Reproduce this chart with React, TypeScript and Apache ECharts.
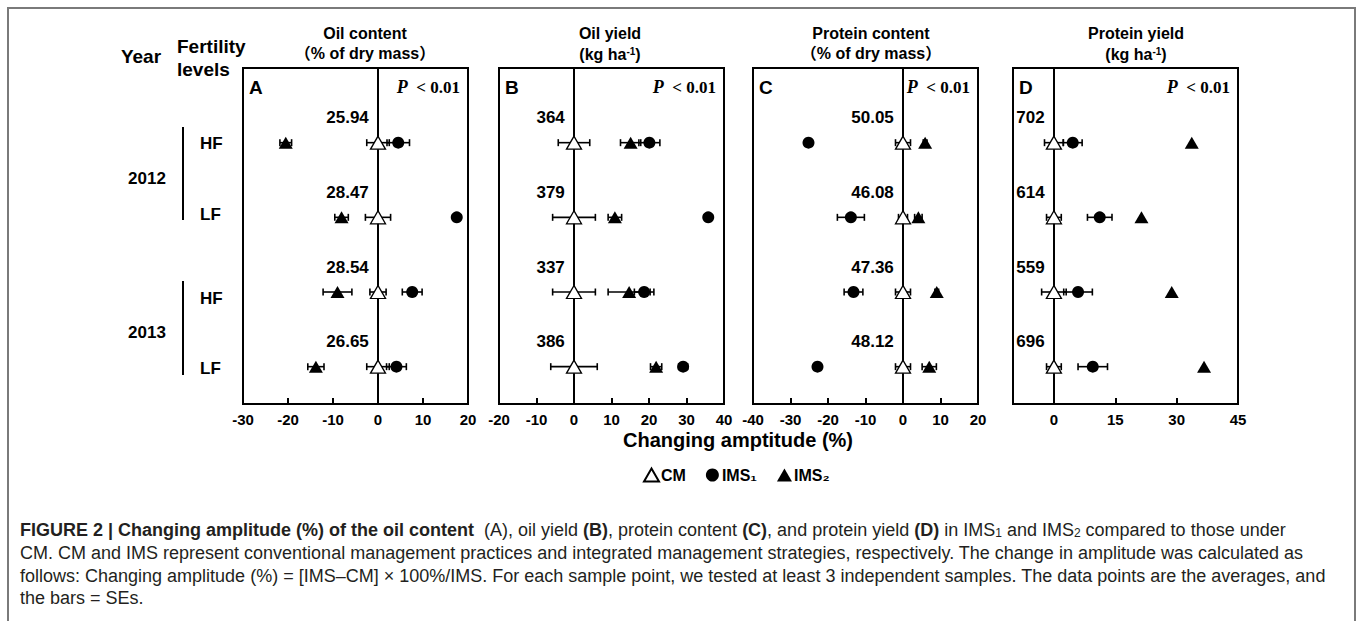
import React, { useEffect, useRef } from 'react';
import * as echarts from 'echarts';

// ---------- data ----------
const rows = ['2012 HF', '2012 LF', '2013 HF', '2013 LF'];

// Panel A: oil content
const oilContentBase = ['25.94', '28.47', '28.54', '26.65'];
const oilContentCMErr = [2.5, 2.8, 1.8, 2.5];
const oilContentIMS1 = [4.5, 17.5, 7.6, 4.1];
const oilContentIMS1Err = [2.5, 0.5, 2.2, 2.2];
const oilContentIMS2 = [-20.5, -8.1, -9.0, -13.8];
const oilContentIMS2Err = [1.3, 1.5, 3.2, 1.8];

// Panel B: oil yield
const oilYieldBase = ['364', '379', '337', '386'];
const oilYieldCMErr = [4.2, 5.7, 5.7, 6.2];
const oilYieldIMS1 = [20.1, 35.8, 18.7, 29.1];
const oilYieldIMS1Err = [2.8, 0.8, 2.6, 1.2];
const oilYieldIMS2 = [15.1, 10.9, 14.7, 21.9];
const oilYieldIMS2Err = [2.7, 1.8, 5.6, 1.5];

// Panel C: protein content
const proteinContentBase = ['50.05', '46.08', '47.36', '48.12'];
const proteinContentCMErr = [2.0, 1.2, 2.0, 2.0];
const proteinContentIMS1 = [-25.2, -13.9, -13.2, -22.8];
const proteinContentIMS1Err = [1.0, 3.6, 2.5, 0.8];
const proteinContentIMS2 = [5.9, 4.1, 9.0, 7.0];
const proteinContentIMS2Err = [0.5, 1.0, 0.5, 1.9];

// Panel D: protein yield
const proteinYieldBase = ['702', '614', '559', '696'];
const proteinYieldCMErr = [2.3, 1.8, 3.0, 1.8];
const proteinYieldIMS1 = [4.6, 11.2, 5.9, 9.5];
const proteinYieldIMS1Err = [2.3, 3.0, 3.5, 3.6];
const proteinYieldIMS2 = [33.7, 21.4, 28.8, 36.7];
const proteinYieldIMS2Err = [0, 0, 0, 0];

const cmMeans = [0, 0, 0, 0];

const panelTitles = ['Oil content', 'Oil yield', 'Protein content', 'Protein yield'];
const panelLetters = ['A', 'B', 'C', 'D'];
const xMins = [-30, -20, -40, -10];
const xMaxs = [20, 40, 20, 45];
const dTicks = [0, 15, 30, 45];

const seriesNames = ['CM', 'IMS₁', 'IMS₂'];

// ---------- layout ----------
const FONT = 'Arial, "Liberation Sans", "Noto Sans CJK SC", sans-serif';
const SERIF = '"Times New Roman", "Liberation Serif", serif';
const gridLefts = [243, 499, 753, 1013];
const gridTop = 68;
const gridW = 225;
const gridH = 336;
const titleCenters = [365, 610, 871, 1136];

const panels = [
  { base: oilContentBase, cmErr: oilContentCMErr, i1: oilContentIMS1, i1e: oilContentIMS1Err, i2: oilContentIMS2, i2e: oilContentIMS2Err },
  { base: oilYieldBase, cmErr: oilYieldCMErr, i1: oilYieldIMS1, i1e: oilYieldIMS1Err, i2: oilYieldIMS2, i2e: oilYieldIMS2Err },
  { base: proteinContentBase, cmErr: proteinContentCMErr, i1: proteinContentIMS1, i1e: proteinContentIMS1Err, i2: proteinContentIMS2, i2e: proteinContentIMS2Err },
  { base: proteinYieldBase, cmErr: proteinYieldCMErr, i1: proteinYieldIMS1, i1e: proteinYieldIMS1Err, i2: proteinYieldIMS2, i2e: proteinYieldIMS2Err },
];

const rowY = (i: number) => rows.length - i - 0.5;

function errSeries(idx: number, means: number[], errs: number[]) {
  return {
    type: 'custom',
    name: 'err',
    xAxisIndex: idx,
    yAxisIndex: idx,
    silent: true,
    z: 1,
    data: means.map((m, i) => [m, rowY(i), errs[i]]),
    encode: { x: 0, y: 1 },
    renderItem: (_p: any, api: any) => {
      const m = api.value(0);
      const y = api.value(1);
      const e = api.value(2);
      if (!e) return null;
      const a = api.coord([m - e, y]);
      const b = api.coord([m + e, y]);
      const h = 3.5;
      const style = { stroke: '#000', lineWidth: 1.6 };
      return {
        type: 'group',
        children: [
          { type: 'line', shape: { x1: a[0], y1: a[1], x2: b[0], y2: b[1] }, style },
          { type: 'line', shape: { x1: a[0], y1: a[1] - h, x2: a[0], y2: a[1] + h }, style },
          { type: 'line', shape: { x1: b[0], y1: b[1] - h, x2: b[0], y2: b[1] + h }, style },
        ],
      };
    },
  };
}

function txt(x: number, y: number, text: string, size: number, align = 'left', extra: any = {}) {
  return {
    type: 'text',
    x,
    y,
    silent: true,
    style: {
      text,
      font: `bold ${size}px ${FONT}`,
      fill: '#000',
      align,
      verticalAlign: 'middle',
      ...extra,
    },
  };
}

export default function App() {
  const ref = useRef<HTMLDivElement>(null);
  useEffect(() => {
    if (!ref.current) return;
    const chart = echarts.init(ref.current, undefined, { renderer: 'svg' });

    const grids = gridLefts.map((l) => ({
      left: l,
      top: gridTop,
      width: gridW,
      height: gridH,
      show: true,
      borderColor: '#000',
      borderWidth: 2,
      backgroundColor: 'transparent',
    }));

    const xAxes = gridLefts.map((_, i) => {
      const ax: any = {
        type: 'value',
        gridIndex: i,
        min: xMins[i],
        max: xMaxs[i],
        axisLine: { show: true, onZero: false, lineStyle: { color: '#000', width: 2 } },
        axisTick: { show: true, inside: true, length: 6, lineStyle: { color: '#000', width: 2 } },
        axisLabel: {
          show: true,
          margin: 8,
          color: '#000',
          fontWeight: 'bold',
          fontSize: 15,
          fontFamily: FONT,
          showMinLabel: true,
          showMaxLabel: true,
          hideOverlap: false,
        },
        splitLine: { show: false },
      };
      if (i === 3) {
        ax.axisTick.customValues = dTicks;
        ax.axisLabel.customValues = dTicks;
      } else {
        ax.interval = 10;
      }
      return ax;
    });

    const yAxes = gridLefts.map((_, i) => ({
      type: 'value',
      gridIndex: i,
      min: 0,
      max: 4.5,
      show: false,
      splitLine: { show: false },
    }));

    const series: any[] = [];
    panels.forEach((p, i) => {
      series.push(errSeries(i, cmMeans, p.cmErr));
      series.push(errSeries(i, p.i1, p.i1e));
      series.push(errSeries(i, p.i2, p.i2e));
      series.push({
        type: 'scatter',
        name: seriesNames[0],
        xAxisIndex: i,
        yAxisIndex: i,
        z: 3,
        symbol: 'triangle',
        symbolSize: [15, 13],
        itemStyle: { color: '#fff', borderColor: '#000', borderWidth: 1.3, opacity: 1 },
        data: cmMeans.map((m, k) => [m, rowY(k)]),
        label: {
          show: true,
          position: 'left',
          distance: 1,
          offset: [0, -25],
          formatter: (q: any) => p.base[q.dataIndex],
          color: '#000',
          fontWeight: 'bold',
          fontSize: 17,
          fontFamily: FONT,
        },
        markLine: {
          silent: true,
          z: 1,
          symbol: ['none', 'none'],
          label: { show: false },
          lineStyle: { color: '#000', width: 2, type: 'solid' },
          data: [{ xAxis: 0 }],
        },
      });
      series.push({
        type: 'scatter',
        name: seriesNames[1],
        xAxisIndex: i,
        yAxisIndex: i,
        z: 3,
        symbol: 'circle',
        symbolSize: 12,
        itemStyle: { color: '#000', opacity: 1 },
        data: p.i1.map((m, k) => [m, rowY(k)]),
      });
      series.push({
        type: 'scatter',
        name: seriesNames[2],
        xAxisIndex: i,
        yAxisIndex: i,
        z: 3,
        symbol: 'triangle',
        symbolSize: [14, 12],
        itemStyle: { color: '#000', opacity: 1 },
        data: p.i2.map((m, k) => [m, rowY(k)]),
      });
    });

    const graphics: any[] = [];
    // frame
    graphics.push({
      type: 'rect',
      silent: true,
      shape: { x: 8, y: 8, width: 1347, height: 640 },
      style: { fill: 'none', stroke: '#7a7a7a', lineWidth: 2 },
    });
    // row header texts
    graphics.push(txt(141, 56, 'Year', 19, 'center'));
    graphics.push(txt(177, 46, 'Fertility', 19));
    graphics.push(txt(177, 69, 'levels', 19));
    graphics.push(txt(147, 178, '2012', 17, 'center'));
    graphics.push(txt(147, 332, '2013', 17, 'center'));
    graphics.push({ type: 'line', silent: true, shape: { x1: 183, y1: 127, x2: 183, y2: 220 }, style: { stroke: '#000', lineWidth: 2 } });
    graphics.push({ type: 'line', silent: true, shape: { x1: 183, y1: 281, x2: 183, y2: 375 }, style: { stroke: '#000', lineWidth: 2 } });
    ['HF', 'LF', 'HF', 'LF'].forEach((t, k) => {
      graphics.push(txt(200, [143, 214, 298, 368][k], t, 17));
    });
    // panel titles
    panelTitles.forEach((t, i) => {
      graphics.push(txt(titleCenters[i], 33, t, 16, 'center'));
      if (i === 0 || i === 2) {
        graphics.push(txt(titleCenters[i], 53, '（% of dry mass）', 16, 'center'));
      } else {
        graphics.push({
          type: 'text',
          x: titleCenters[i],
          y: 54,
          silent: true,
          style: {
            text: '{a|(kg ha}{s|-1}{a|)}',
            align: 'center',
            verticalAlign: 'middle',
            rich: {
              a: { font: `bold 16px ${FONT}`, fill: '#000' },
              s: { font: `bold 10px ${FONT}`, fill: '#000', verticalAlign: 'top' },
            },
          },
        });
      }
      // letters
      graphics.push(txt(gridLefts[i] + 6, 87, panelLetters[i], 19));
      graphics.push({
        type: 'text',
        x: gridLefts[i] + gridW - 8,
        y: 87,
        silent: true,
        style: {
          text: '{i|P}{n|  < 0.01}',
          align: 'right',
          verticalAlign: 'middle',
          rich: {
            i: { font: `italic bold 18px ${SERIF}`, fill: '#000' },
            n: { font: `bold 17px ${SERIF}`, fill: '#000' },
          },
        },
      });
    });
    // axis name
    graphics.push(txt(738, 440, 'Changing amptitude (%)', 20, 'center'));

    // caption
    const cap = (y: number, text: string) => ({
      type: 'text',
      x: 20,
      y,
      silent: true,
      style: {
        text,
        align: 'left',
        verticalAlign: 'middle',
        rich: {
          b: { font: `bold 18px ${FONT}`, fill: '#231f20' },
          n: { font: `18px ${FONT}`, fill: '#231f20' },
          s: { font: `12px ${FONT}`, fill: '#231f20', verticalAlign: 'bottom' },
        },
      },
    });
    graphics.push(cap(530, '{b|FIGURE 2 | Changing amplitude (%) of the oil content }{n| (A), oil yield }{b|(B)}{n|, protein content }{b|(C)}{n|, and protein yield }{b|(D)}{n| in IMS}{s|1}{n| and IMS}{s|2}{n| compared to those under}'));
    graphics.push(cap(553, '{n|CM. CM and IMS represent conventional management practices and integrated management strategies, respectively. The change in amplitude was calculated as}'));
    graphics.push(cap(576, '{n|follows: Changing amplitude (%) = [IMS–CM] × 100%/IMS. For each sample point, we tested at least 3 independent samples. The data points are the averages, and}'));
    graphics.push(cap(598, '{n|the bars = SEs.}'));

    chart.setOption({
      animation: false,
      backgroundColor: '#fff',
      grid: grids,
      xAxis: xAxes,
      yAxis: yAxes,
      legend: {
        left: 638,
        top: 462,
        itemGap: 20,
        itemWidth: 15,
        itemHeight: 13,
        selectedMode: false,
        textStyle: { color: '#000', fontWeight: 'bold', fontSize: 16, fontFamily: FONT, padding: [0, 0, 0, -3] },
        data: [
          { name: 'CM', icon: 'triangle' },
          { name: 'IMS₁', icon: 'circle' },
          { name: 'IMS₂', icon: 'triangle' },
        ],
      },
      series,
      graphic: graphics,
    });

    return () => chart.dispose();
  }, []);

  return <div ref={ref} style={{ position: 'absolute', left: 0, top: 0, width: 1358, height: 621, background: '#fff' }} />;
}
